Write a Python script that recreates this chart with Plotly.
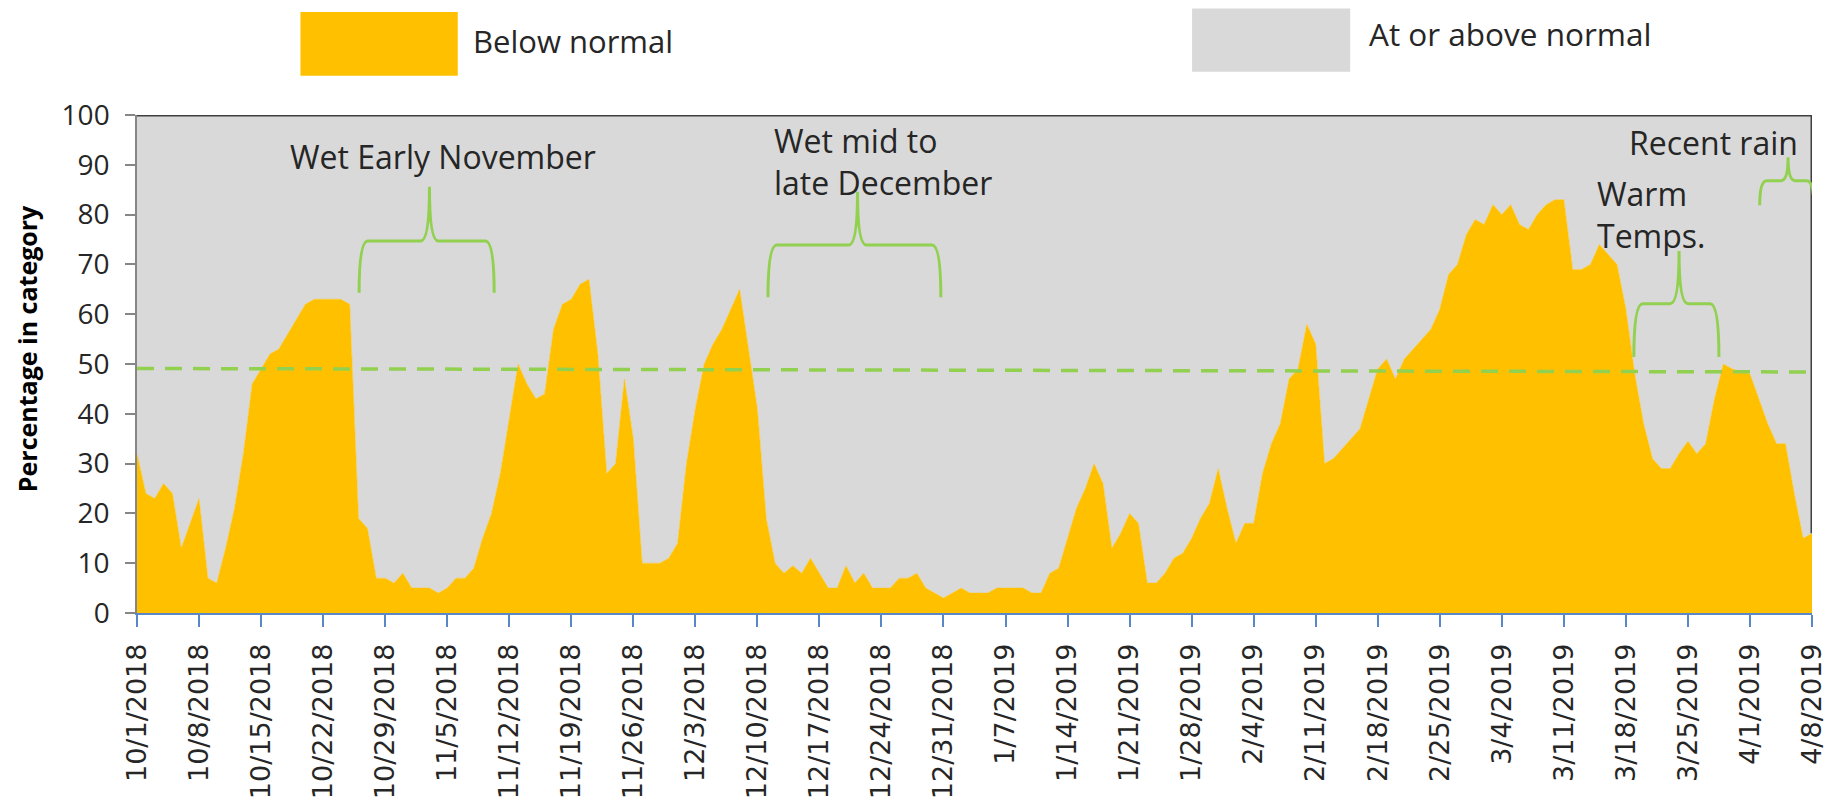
import plotly.graph_objects as go

# ---------------- data ----------------
tick_labels = ["10/1/2018", "10/8/2018", "10/15/2018", "10/22/2018", "10/29/2018",
               "11/5/2018", "11/12/2018", "11/19/2018", "11/26/2018", "12/3/2018",
               "12/10/2018", "12/17/2018", "12/24/2018", "12/31/2018", "1/7/2019",
               "1/14/2019", "1/21/2019", "1/28/2019", "2/4/2019", "2/11/2019",
               "2/18/2019", "2/25/2019", "3/4/2019", "3/11/2019", "3/18/2019",
               "3/25/2019", "4/1/2019", "4/8/2019"]

# daily percentage of area in "Below normal" category, 10/1/2018 .. 4/8/2019
below_normal = [
    32, 24, 23, 26, 24, 13, 18, 23, 7, 6,
    13, 21, 32, 46, 49, 52, 53, 56, 59, 62,
    63, 63, 63, 63, 62, 19, 17, 7, 7, 6,
    8, 5, 5, 5, 4, 5, 7, 7, 9, 15,
    20, 28, 39, 50, 46, 43, 44, 57, 62, 63,
    66, 67, 52, 28, 30, 47, 35, 10, 10, 10,
    11, 14, 30, 41, 50, 54, 57, 61, 65, 53,
    41, 19, 10, 8, 9.5, 8, 11, 8, 5, 5,
    9.5, 6, 8, 5, 5, 5, 7, 7, 8, 5,
    4, 3, 4, 5, 4, 4, 4, 5, 5, 5,
    5, 4, 4, 8, 9, 15, 21, 25, 30, 26,
    13, 16, 20, 18, 6, 6, 8, 11, 12, 15,
    19, 22, 29, 21, 14, 18, 18, 28, 34, 38,
    47, 49, 58, 54, 30, 31, 33, 35, 37, 43,
    49, 51, 47, 51, 53, 55, 57, 61, 68, 70,
    76, 79, 78, 82, 80, 82, 78, 77, 80, 82,
    83, 83, 69, 69, 70, 74, 72, 70, 61, 48,
    38, 31, 29, 29, 32, 34.5, 32, 34, 43, 50,
    49, 48.5, 48, 43, 38, 34, 34, 24, 15, 16,
]
# the rest of each day is "At or above normal" (both sum to 100 %)
at_or_above = [100 - v for v in below_normal]

# dashed green reference (trend) line, start and end values
trend_values = [49.1, 48.4]

series_names = ["Below normal", "At or above normal"]

# ---------------- styling ----------------
ORANGE = "#FFC000"
GRAY = "#D9D9D9"
GREEN = "#92D050"
DARK = "#404040"
TXT = "#262626"
FONT = "Open Sans"

days = list(range(len(below_normal)))
tick_positions = days[::7]

fig = go.Figure()
fig.add_trace(go.Scatter(x=days, y=below_normal, name=series_names[0],
                         stackgroup="s", mode="lines",
                         line=dict(color=ORANGE, width=0.5),
                         fillcolor=ORANGE, showlegend=False))
fig.add_trace(go.Scatter(x=days, y=at_or_above, name=series_names[1],
                         stackgroup="s", mode="lines",
                         line=dict(color=DARK, width=3),
                         fillcolor=GRAY, showlegend=False))
# right edge outline of the gray area
fig.add_trace(go.Scatter(x=[days[-1], days[-1]], y=[below_normal[-1], 100],
                         mode="lines", line=dict(color=DARK, width=3),
                         showlegend=False, hoverinfo="skip"))
# dashed trend line
fig.add_trace(go.Scatter(x=[days[0], days[-1]], y=trend_values, mode="lines",
                         line=dict(color=GREEN, width=3.5, dash="17px,11px"),
                         showlegend=False, hoverinfo="skip"))


def brace_path(xl, xc, xr, yb, yh, yt, rx):
    return (f"M {xl},{yb} Q {xl},{yh} {xl + rx},{yh} L {xc - rx},{yh} "
            f"Q {xc},{yh} {xc},{yt} Q {xc},{yh} {xc + rx},{yh} "
            f"L {xr - rx},{yh} Q {xr},{yh} {xr},{yb}")


braces = [
    (25.06, 33.0, 40.3, 64.3, 74.7, 85.6, 1.0),
    (71.2, 81.3, 90.7, 63.4, 73.9, 84.6, 1.0),
    (168.9, 174.0, 178.5, 51.4, 62.1, 72.7, 1.0),
    (183.1, 186.3, 189.2, 81.9, 86.8, 91.5, 0.8),
]
shapes = []
for b in braces:
    shapes.append(dict(type="path", xref="x", yref="y", path=brace_path(*b),
                       line=dict(color=GREEN, width=3), layer="above"))

# legend boxes (paper coords)
shapes.append(dict(type="rect", xref="paper", yref="paper",
                   x0=0.0976, x1=0.1915, y0=1.0788, y1=1.2067,
                   fillcolor=ORANGE, line=dict(width=0)))
shapes.append(dict(type="rect", xref="paper", yref="paper",
                   x0=0.6299, x1=0.7243, y0=1.0869, y1=1.2141,
                   fillcolor=GRAY, line=dict(width=0)))

annotations = [
    dict(x=0.1997, y=1.1495, xref="paper", yref="paper", text=series_names[0],
         showarrow=False, xanchor="left", yanchor="middle",
         font=dict(family=FONT, size=31, color=TXT)),
    dict(x=0.7344, y=1.1636, xref="paper", yref="paper", text=series_names[1],
         showarrow=False, xanchor="left", yanchor="middle",
         font=dict(family=FONT, size=31.5, color=TXT)),
    dict(x=34.5, y=91.7, xref="x", yref="y", text="Wet Early November",
         showarrow=False, xanchor="center", yanchor="middle",
         font=dict(family=FONT, size=32, color=TXT)),
    dict(x=71.6, y=90.6, xref="x", yref="y", text="Wet mid to<br>late December",
         showarrow=False, xanchor="left", yanchor="middle", align="left",
         font=dict(family=FONT, size=32, color=TXT)),
    dict(x=164.5, y=80.1, xref="x", yref="y", text="Warm<br>Temps.",
         showarrow=False, xanchor="left", yanchor="middle", align="left",
         font=dict(family=FONT, size=32, color=TXT)),
    dict(x=177.9, y=94.5, xref="x", yref="y", text="Recent rain",
         showarrow=False, xanchor="center", yanchor="middle",
         font=dict(family=FONT, size=32, color=TXT)),
    dict(x=-0.0656, y=0.530, xref="paper", yref="paper",
         text="<b>Percentage in category</b>", textangle=-90,
         showarrow=False, xanchor="center", yanchor="middle",
         font=dict(family=FONT, size=25, color="#000000")),
]

# the page body adds an 8px offset, so the figure is sized to compensate
fig.update_layout(
    width=1825, height=790,
    margin=dict(l=129, r=21, t=107, b=185, autoexpand=False),
    paper_bgcolor="white", plot_bgcolor="white",
    shapes=shapes, annotations=annotations,
    showlegend=False,
    xaxis=dict(range=[days[0], days[-1]], tickmode="array",
               tickvals=tick_positions, ticktext=tick_labels,
               tickangle=-90, ticks="outside", ticklen=12, tickwidth=1.5,
               tickcolor="#5A87C8", showline=True, linecolor="#5A87C8",
               linewidth=1.5, showgrid=False, zeroline=False,
               ticklabelstandoff=6, automargin=False,
               tickfont=dict(family="DejaVu Sans", size=27, color=TXT)),
    yaxis=dict(range=[0, 100], tickmode="linear", tick0=0, dtick=10,
               ticks="outside", ticklen=10, tickwidth=1.5, tickcolor="#868686",
               showline=True, linecolor="#868686", linewidth=1.5,
               showgrid=False, zeroline=False, ticklabelstandoff=10,
               automargin=False,
               tickfont=dict(family=FONT, size=28, color=TXT)),
)

fig.write_html("out.html")
